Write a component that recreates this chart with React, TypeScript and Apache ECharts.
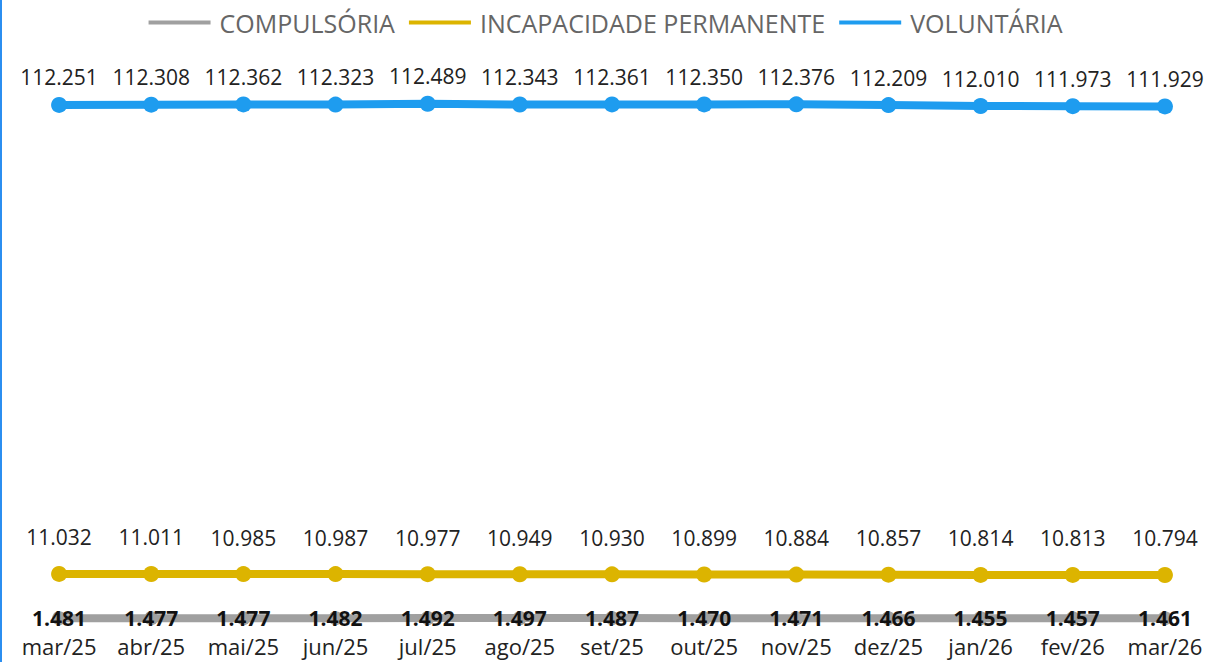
import React, { useEffect, useRef } from "react";
import * as echarts from "echarts";

const categories = ["mar/25","abr/25","mai/25","jun/25","jul/25","ago/25","set/25","out/25","nov/25","dez/25","jan/26","fev/26","mar/26"];
const compulsoria = [1481,1477,1477,1482,1492,1497,1487,1470,1471,1466,1455,1457,1461];
const incapacidade = [11032,11011,10985,10987,10977,10949,10930,10899,10884,10857,10814,10813,10794];
const voluntaria = [112251,112308,112362,112323,112489,112343,112361,112350,112376,112209,112010,111973,111929];

const fmt = (v: number) => v.toLocaleString("de-DE");
const FONT = "'Segoe UI', 'Open Sans', sans-serif";

export default function App() {
  const ref = useRef<HTMLDivElement>(null);
  useEffect(() => {
    if (!ref.current) return;
    const chart = echarts.init(ref.current, null, { renderer: "svg" });
    chart.setOption({
      animation: false,
      textStyle: { fontFamily: FONT },
      graphic: [{ type: "rect", shape: { x: 0, y: 0, width: 2, height: 662 }, style: { fill: "#2b8ef0" } }],
      legend: {
        top: 5,
        left: "center",
        icon: "rect",
        itemWidth: 62,
        itemHeight: 4,
        itemGap: 14,
        textStyle: { fontSize: 25, color: "#666666", fontFamily: FONT, padding: [0, 0, 0, 4] },
        data: ["COMPULSÓRIA", "INCAPACIDADE PERMANENTE", "VOLUNTÁRIA"],
      },
      grid: { left: 13, right: 0, top: 69, bottom: 37 },
      xAxis: {
        type: "category",
        data: categories,
        axisLine: { show: false },
        axisTick: { show: false },
        axisLabel: { fontSize: 22, color: "#222", margin: 10, interval: 0, fontFamily: FONT },
      },
      yAxis: { type: "value", min: 0, max: 120000, show: false, splitLine: { show: false } },
      series: [
        {
          name: "COMPULSÓRIA",
          type: "line",
          data: compulsoria,
          color: "#a0a0a0",
          lineStyle: { width: 8, color: "#a0a0a0" },
          symbol: "circle",
          symbolSize: 14,
          label: { show: true, position: "inside", formatter: (p: any) => fmt(p.value), fontSize: 21, fontWeight: "bold", color: "#111", fontFamily: FONT },
          z: 1,
        },
        {
          name: "INCAPACIDADE PERMANENTE",
          type: "line",
          data: incapacidade,
          color: "#dcb400",
          lineStyle: { width: 8, color: "#dcb400" },
          symbol: "circle",
          symbolSize: 16,
          label: { show: true, position: "top", distance: 18, formatter: (p: any) => fmt(p.value), fontSize: 21, color: "#222", fontFamily: FONT },
        },
        {
          name: "VOLUNTÁRIA",
          type: "line",
          data: voluntaria,
          color: "#1e9cef",
          lineStyle: { width: 8, color: "#1e9cef" },
          symbol: "circle",
          symbolSize: 16,
          label: { show: true, position: "top", distance: 9, formatter: (p: any) => fmt(p.value), fontSize: 21, color: "#222", fontFamily: FONT },
        },
      ],
    });
    return () => chart.dispose();
  }, []);
  return <div ref={ref} style={{ position: "fixed", left: 0, top: 0, width: 1211, height: 662, background: "#fff" }} />;
}
